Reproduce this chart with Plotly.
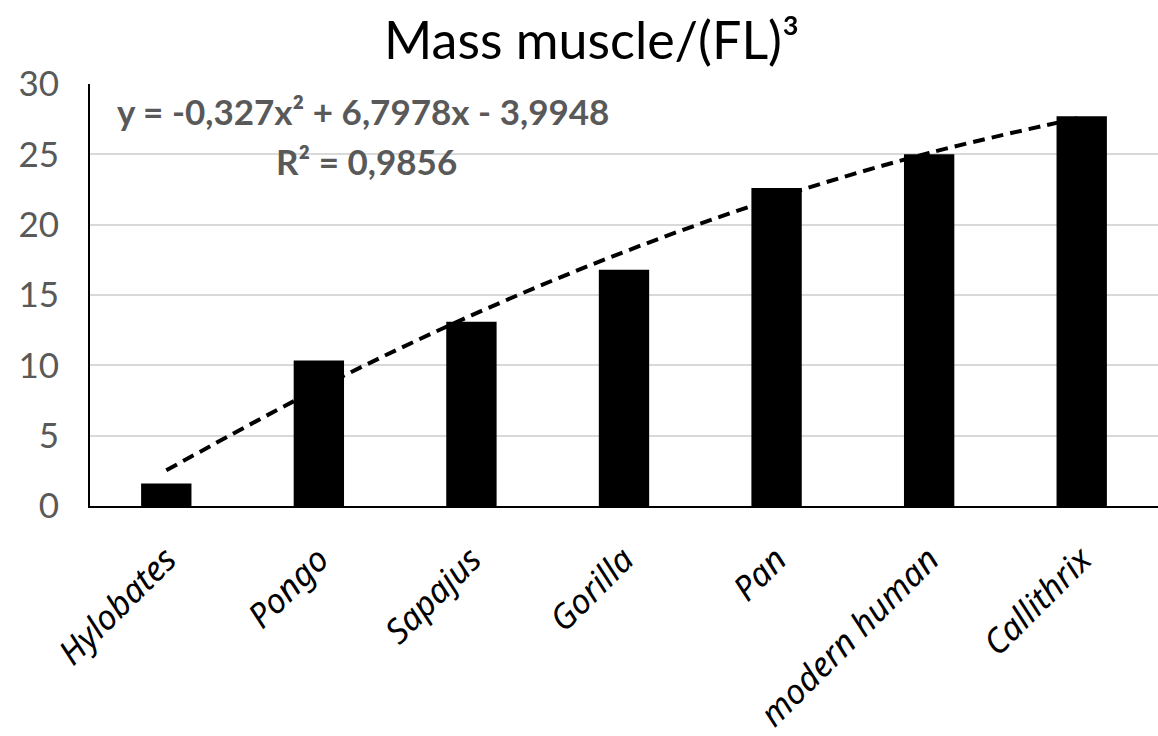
import numpy as np
import plotly.graph_objects as go

categories = ["Hylobates", "Pongo", "Sapajus", "Gorilla", "Pan", "modern human", "Callithrix"]
values = [1.6, 10.35, 13.1, 16.8, 22.6, 25.0, 27.7]
equation_text = "y = -0,327x² + 6,7978x - 3,9948"
r2_text = "R² = 0,9856"
title_text = "Mass muscle/(FL)³"

# quadratic trendline fitted to the bar values (as the spreadsheet does)
xi = np.arange(1, len(values) + 1)
coef = np.polyfit(xi, values, 2)
trend = np.polyval(coef, xi)

fig = go.Figure()
fig.add_trace(go.Bar(x=categories, y=values, marker=dict(color="black", line=dict(width=0)),
                     showlegend=False))
fig.add_trace(go.Scatter(x=categories, y=trend, mode="lines", line_shape="spline",
                         line=dict(color="black", width=4, dash="12px,7px"), showlegend=False))

fig.update_layout(
    width=1158, height=736,
    margin=dict(l=90, r=0, t=84, b=228),
    paper_bgcolor="white", plot_bgcolor="white",
    bargap=0.67,
    title=dict(text=title_text, x=0.511, xanchor="center", y=0.945, yanchor="middle",
               font=dict(family="Lato, Open Sans, sans-serif", size=52, color="black")),
    font=dict(family="Lato, Open Sans, sans-serif"),
)
fig.update_xaxes(showline=True, linecolor="black", linewidth=2, tickangle=-45,
                 tickfont=dict(family="Noto Sans, DejaVu Sans", size=34, color="black", style="italic"),
                 ticks="", showgrid=False, ticklabelstandoff=18)
fig.update_yaxes(range=[0, 30], dtick=5, showline=True, linecolor="black", linewidth=2,
                 gridcolor="#d9d9d9", gridwidth=2, zeroline=False,
                 tickfont=dict(family="Lato, Open Sans, sans-serif", size=35, color="#595959"),
                 ticks="outside", ticklen=22, tickcolor="white")

fig.add_annotation(text="<b>" + equation_text + "</b>", xref="paper", yref="paper",
                   x=0.256, y=0.935, xanchor="center", yanchor="middle", showarrow=False,
                   font=dict(family="Lato, Open Sans, sans-serif", size=35, color="#595959"))
fig.add_annotation(text="<b>" + r2_text + "</b>", xref="paper", yref="paper",
                   x=0.259, y=0.818, xanchor="center", yanchor="middle", showarrow=False,
                   font=dict(family="Lato, Open Sans, sans-serif", size=35, color="#595959"))

fig.write_html("out.html")
